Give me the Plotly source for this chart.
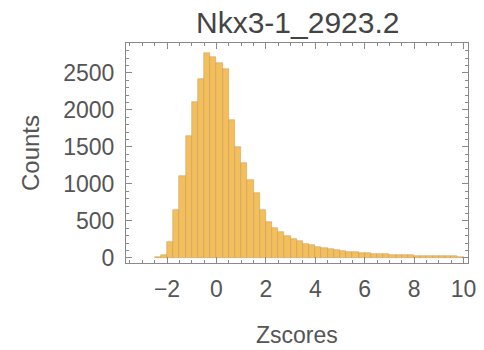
import plotly.graph_objects as go

# histogram of z-scores, bin width 0.25 (left edges)
bin_lefts = [-2.5, -2.25, -2.0, -1.75, -1.5, -1.25, -1.0, -0.75, -0.5, -0.25,
             0.0, 0.25, 0.5, 0.75, 1.0, 1.25, 1.5, 1.75, 2.0, 2.25,
             2.5, 2.75, 3.0, 3.25, 3.5, 3.75, 4.0, 4.25, 4.5, 4.75,
             5.0, 5.25, 5.5, 5.75, 6.0, 6.25, 6.5, 6.75, 7.0, 7.25,
             7.5, 7.75, 8.0, 8.25, 8.5, 8.75, 9.0, 9.25, 9.5, 9.75]
counts = [10, 40, 220, 650, 1110, 1650, 2110, 2420, 2770, 2720,
          2640, 2550, 1860, 1500, 1280, 1050, 880, 650, 480, 410,
          350, 300, 260, 225, 195, 170, 150, 133, 118, 105,
          95, 86, 78, 71, 65, 59, 54, 50, 46, 42,
          39, 36, 33, 31, 29, 27, 25, 23, 21, 19]
bin_width = 0.25

title = 'Nkx3-1_2923.2'
x_label = 'Zscores'
y_label = 'Counts'

font = 'Liberation Sans'
frame_col = '#8a8a8a'
text_col = '#555555'

fig = go.Figure()
fig.add_trace(go.Bar(x=bin_lefts, y=counts, width=bin_width, offset=0,
                     marker=dict(color='rgb(243,190,92)',
                                 line=dict(color='rgba(190,145,80,0.7)', width=0.6))))

axis_common = dict(showgrid=False, zeroline=False, showline=True, linecolor=frame_col,
                   linewidth=1, mirror='allticks', ticks='inside', tickcolor=frame_col,
                   ticklabeloverflow='allow',
                   tickfont=dict(family=font, size=23, color=text_col))

fig.update_xaxes(range=[-3.66, 10.18], tickmode='array', tickvals=[-2, 0, 2, 4, 6, 8, 10],
                 ticklen=6, ticklabelstandoff=5,
                 minor=dict(dtick=0.5, tick0=0, ticklen=3, tickcolor=frame_col, ticks='inside'),
                 **axis_common)
fig.update_yaxes(range=[-68, 2905], tickmode='array', tickvals=[0, 500, 1000, 1500, 2000, 2500],
                 ticklen=6, ticklabelstandoff=6,
                 minor=dict(dtick=100, tick0=0, ticklen=3, tickcolor=frame_col, ticks='inside'),
                 **axis_common)

fig.update_layout(
    width=484, height=350,
    margin=dict(l=126, r=8, t=43, b=87),
    paper_bgcolor='white', plot_bgcolor='white',
    showlegend=False, bargap=0,
    annotations=[
        dict(text=title, xref='paper', yref='paper', x=0.5, y=1, yanchor='middle', yshift=21,
             showarrow=False, font=dict(family=font, size=30, color='#444444')),
        dict(text=x_label, xref='paper', yref='paper', x=0.5, y=0, yanchor='middle', yshift=-72,
             showarrow=False, font=dict(family=font, size=23, color=text_col)),
        dict(text=y_label, xref='paper', yref='paper', x=0, xanchor='center', xshift=-96, y=0.5,
             textangle=-90, showarrow=False, font=dict(family=font, size=24, color=text_col)),
    ],
)

# drop the default page margin so the figure sits at the window origin
fig.write_html('out.html', config={'displayModeBar': False},
               post_script="document.body.style.margin='0';")
